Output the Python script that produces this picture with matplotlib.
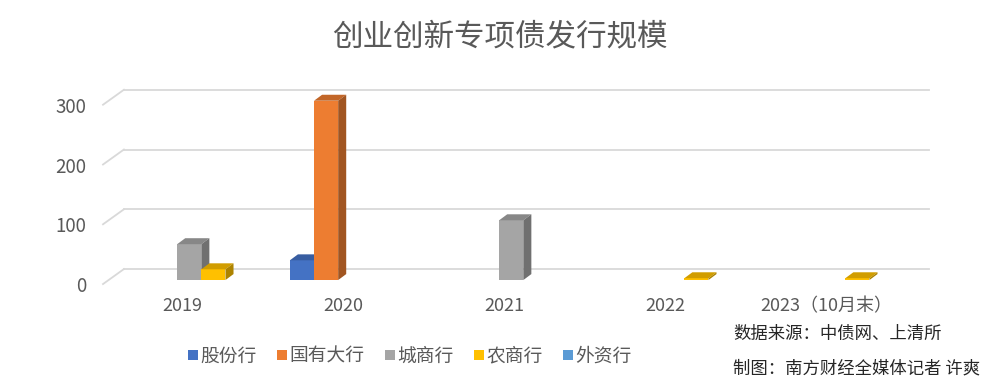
import numpy as np
import matplotlib
matplotlib.use('Agg')
import matplotlib.pyplot as plt
from matplotlib.patches import Polygon, Rectangle
import matplotlib.colors as mcolors

plt.rcParams['font.family'] = ['Noto Sans CJK SC', 'DejaVu Sans']

# data
years = ['2019', '2020', '2021', '2022', '2023（10月末）']
series = ['股份行', '国有大行', '城商行', '农商行', '外资行']
gufen = [0, 33, 0, 0, 0]
guoyou = [0, 300, 0, 0, 0]
chengshang = [60, 0, 100, 0, 0]
nongshang = [18, 0, 0, 3, 3]
waizi = [0, 0, 0, 0, 0]
yticks = [0, 100, 200, 300]

data = [gufen, guoyou, chengshang, nongshang, waizi]
colors = ['#4472C4', '#ED7D31', '#A5A5A5', '#FFC000', '#5B9BD5']
txt = '#595959'
grid = '#D9D9D9'

def shade(c, f):
    r, g, b = mcolors.to_rgb(c)
    return (r * f, g * f, b * f)

fig = plt.figure(figsize=(10, 3.86), dpi=100)
ax = fig.add_axes([0.103, 0.259, 0.826, 0.511])
x_left, x_right = -0.4907, 4.64
ax.set_xlim(x_left, x_right)
ax.set_ylim(-10, 320)

# fake 3d walls: front-left corner -> back wall
front_dy, back_dx, back_dy = -6.7, 0.13, 18.4
for v in yticks:
    ax.plot([x_left, x_left + back_dx], [v + front_dy, v + back_dy],
            color=grid, lw=1.3, clip_on=False, zorder=1)
    ax.plot([x_left + back_dx, x_right], [v + back_dy, v + back_dy],
            color=grid, lw=1.3, clip_on=False, zorder=1)

# bars with depth
w = 0.15
shift = 0.045
ddx, ddy = 0.05, 10
x = np.arange(len(years))
for k, vals in enumerate(data):
    vals = np.array(vals, dtype=float)
    pos = x - 2.5 * w + k * w + shift
    m = vals > 0
    ax.bar(pos[m], vals[m], w, align='edge', color=colors[k],
           zorder=3 + k, linewidth=0)
    for x0, h in zip(pos[m], vals[m]):
        top = Polygon([(x0, h), (x0 + w, h), (x0 + w + ddx, h + ddy),
                       (x0 + ddx, h + ddy)], closed=True,
                      facecolor=shade(colors[k], 0.82), lw=0, zorder=3 + k)
        side = Polygon([(x0 + w, 0), (x0 + w, h), (x0 + w + ddx, h + ddy),
                        (x0 + w + ddx, ddy)], closed=True,
                       facecolor=shade(colors[k], 0.68), lw=0, zorder=3 + k)
        ax.add_patch(top)
        ax.add_patch(side)

for s in ax.spines.values():
    s.set_visible(False)
# value labels sit at the front edge of the floor/gridline diagonals
ax.set_yticks([v + front_dy for v in yticks])
ax.set_yticklabels([str(t) for t in yticks])
ax.set_xticks(x)
ax.set_xticklabels(years)
ax.tick_params(axis='y', length=0, pad=12, labelsize=13.5, labelcolor=txt)
ax.tick_params(axis='x', length=0, pad=8, labelsize=13, labelcolor=txt)

fig.text(0.5, 1 - 37 / 386, '创业创新专项债发行规模', ha='center', va='center',
         fontsize=22, color=txt)

handles = [Rectangle((0, 0), 1, 1, facecolor=c, lw=0) for c in colors]
leg = fig.legend(handles, series, loc='center', bbox_to_anchor=(0.41, 1 - 356 / 386),
                 ncol=5, frameon=False, handlelength=0.5, handleheight=0.5,
                 handletextpad=0.15, columnspacing=1.1, fontsize=13.5)
for t in leg.get_texts():
    t.set_color(txt)

fig.text(0.733, 1 - 334 / 386, '数据来源：中债网、上清所', ha='left', va='center',
         fontsize=12.5, color='#262626')
fig.text(0.733, 1 - 368 / 386, '制图：南方财经全媒体记者 许爽', ha='left', va='center',
         fontsize=12.5, color='#262626')

fig.savefig('out.png', dpi=100)
